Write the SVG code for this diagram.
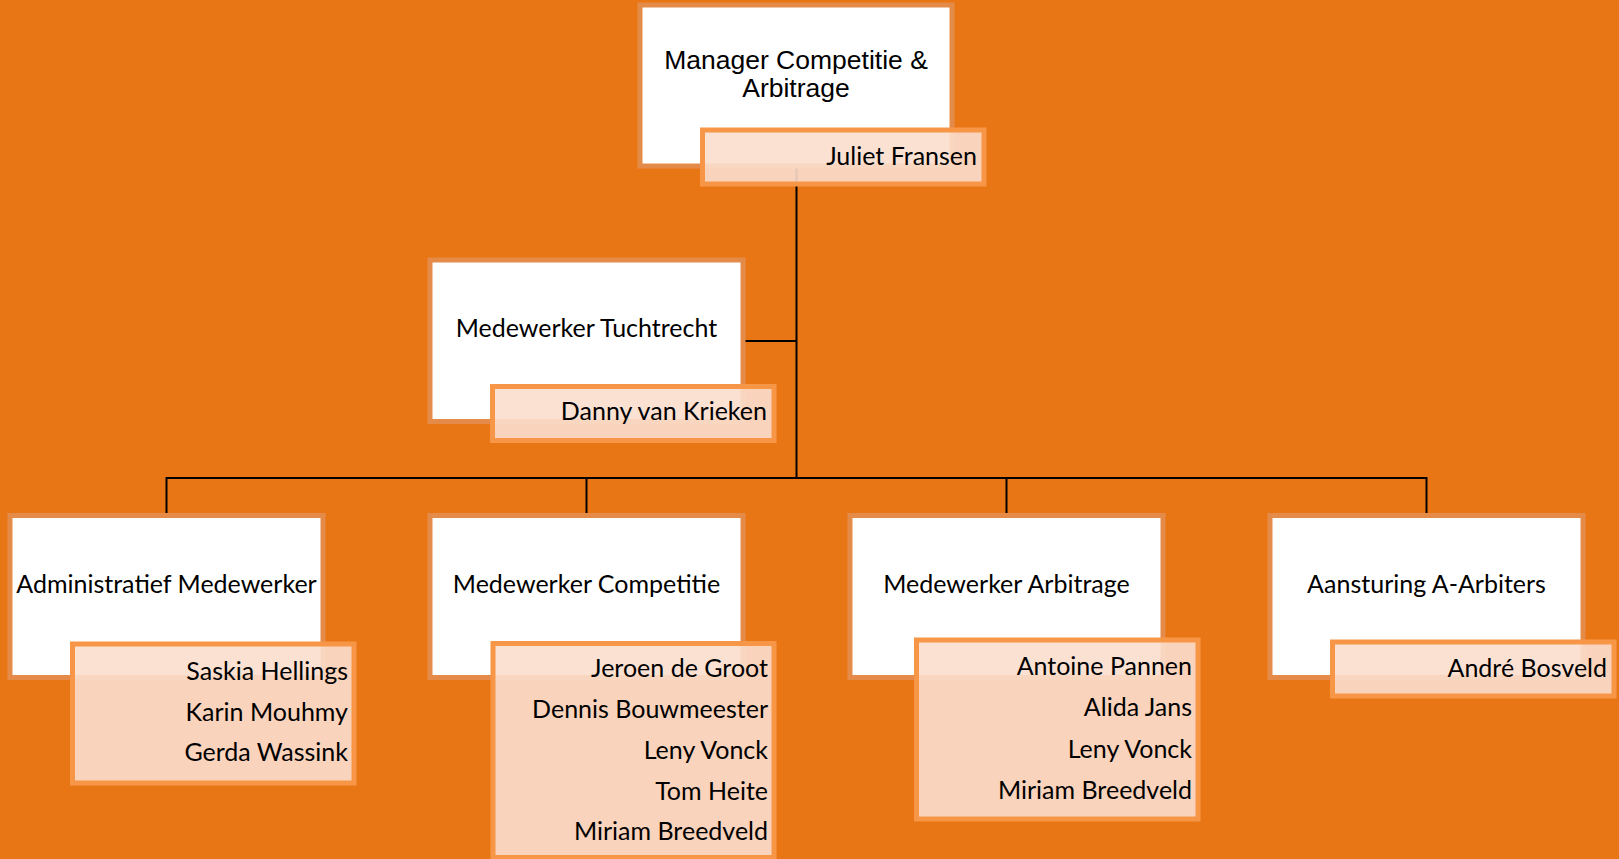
<svg xmlns="http://www.w3.org/2000/svg" width="1619" height="859" viewBox="0 0 1619 859">
<style>
.bg{fill:#E97614}
.role{fill:#ffffff;stroke:#E58B4A;stroke-width:5}
.name{fill:rgb(251,222,205);fill-opacity:0.9;stroke:#F79646;stroke-width:5}
.conn{stroke:#000000;stroke-width:2;fill:none}
.t1{font-family:"Liberation Sans",Arial,sans-serif;font-size:26.5px;fill:#000000;text-anchor:middle}
.t2{font-family:Lato,"Liberation Sans",sans-serif;font-size:25px;fill:#000000;text-anchor:middle}
.tn{font-family:Lato,"Liberation Sans",sans-serif;font-size:25px;fill:#000000;text-anchor:end}
</style>
<rect class="bg" x="0" y="0" width="1619" height="859"/>
<g id="connectors">
<path class="conn" d="M796.5 166 V478"/>
<path class="conn" d="M744 341 H796.5"/>
<path class="conn" d="M166.5 478 H1426.5"/>
<path class="conn" d="M166.5 477 V513"/>
<path class="conn" d="M586.5 477 V513"/>
<path class="conn" d="M1006.5 477 V513"/>
<path class="conn" d="M1426.5 477 V513"/>
</g>
<g id="manager">
<rect class="role" x="640" y="5" width="312" height="161"/>
<text class="t1" x="796" y="69">Manager Competitie &amp;</text>
<text class="t1" x="796" y="97">Arbitrage</text>
<rect class="name" x="702.5" y="130" width="281.5" height="54"/>
<text class="tn" x="977" y="165">Juliet Fransen</text>
</g>
<g id="tuchtrecht">
<rect class="role" x="430" y="260" width="313" height="161.5"/>
<text class="t2" x="586.5" y="337">Medewerker Tuchtrecht</text>
<rect class="name" x="492.5" y="386.5" width="281.5" height="54"/>
<text class="tn" x="767" y="420">Danny van Krieken</text>
</g>
<g id="administratief">
<rect class="role" x="10" y="515.5" width="313" height="162"/>
<text class="t2" x="166.5" y="593">Administratief Medewerker</text>
<rect class="name" x="72.5" y="644" width="281.5" height="139"/>
<text class="tn" x="348" y="680">Saskia Hellings</text>
<text class="tn" x="348" y="720.5">Karin Mouhmy</text>
<text class="tn" x="348" y="761">Gerda Wassink</text>
</g>
<g id="competitie">
<rect class="role" x="430" y="515.5" width="313" height="162"/>
<text class="t2" x="586.5" y="593">Medewerker Competitie</text>
<rect class="name" x="493" y="643.5" width="281" height="214"/>
<text class="tn" x="768" y="677">Jeroen de Groot</text>
<text class="tn" x="768" y="718">Dennis Bouwmeester</text>
<text class="tn" x="768" y="759">Leny Vonck</text>
<text class="tn" x="768" y="799.5">Tom Heite</text>
<text class="tn" x="768" y="840">Miriam Breedveld</text>
</g>
<g id="arbitrage">
<rect class="role" x="850" y="515.5" width="313" height="162"/>
<text class="t2" x="1006.5" y="593">Medewerker Arbitrage</text>
<rect class="name" x="916.5" y="640" width="281.5" height="179"/>
<text class="tn" x="1192" y="675">Antoine Pannen</text>
<text class="tn" x="1192" y="716">Alida Jans</text>
<text class="tn" x="1192" y="757.5">Leny Vonck</text>
<text class="tn" x="1192" y="798.5">Miriam Breedveld</text>
</g>
<g id="aansturing">
<rect class="role" x="1270" y="515.5" width="313" height="162"/>
<text class="t2" x="1426.5" y="593">Aansturing A-Arbiters</text>
<rect class="name" x="1332.5" y="642" width="281.5" height="54"/>
<text class="tn" x="1607" y="677">André Bosveld</text>
</g>
</svg>
